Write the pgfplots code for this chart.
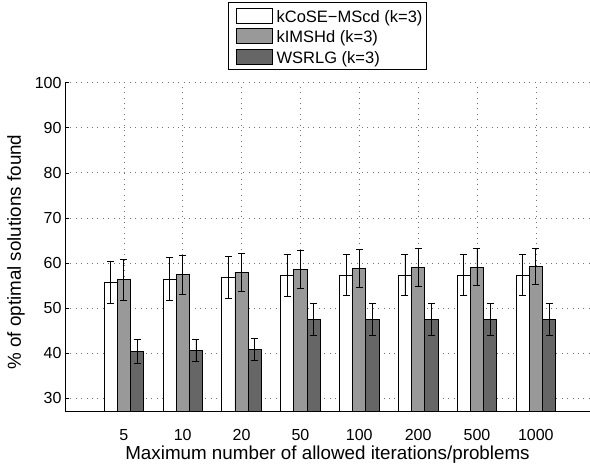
\documentclass[border=0pt]{standalone}
\usepackage{fontspec}
\setmainfont{Liberation Sans}
\usepackage{pgfplots}
\usepackage{pgfplotstable}
\pgfplotsset{compat=1.18}

\definecolor{barB}{HTML}{999999}
\definecolor{barC}{HTML}{666666}

% x = group index (5,10,20,50,100,200,500,1000)
\pgfplotstableread{
x y err
1 55.7 4.7
2 56.4 4.8
3 56.85 4.7
4 57.2 4.7
5 57.35 4.5
6 57.35 4.5
7 57.35 4.5
8 57.35 4.5
}\kcose
\pgfplotstableread{
x y err
1 56.25 4.5
2 57.4 4.3
3 57.95 4.2
4 58.5 4.2
5 58.85 4.2
6 59.0 4.2
7 59.1 4.1
8 59.15 4.0
}\kimshd
\pgfplotstableread{
x y err
1 40.4 2.6
2 40.6 2.5
3 40.8 2.45
4 47.5 3.5
5 47.5 3.5
6 47.5 3.5
7 47.5 3.5
8 47.5 3.5
}\wsrlg

\pgfplotsset{
    mybar/.style={
        draw=black, line width=0.8pt, fill=#1,
        legend image code/.code={%
            \path (-3.3pt,0pt);
            \draw[##1] (0pt,-7.5pt) rectangle (36pt,7.5pt);},
        error bars/.cd, y dir=both, y explicit,
        error bar style={black, line width=0.8pt},
        error mark options={black, mark size=3.5pt, line width=0.8pt, rotate=90}
    }
}

\begin{document}
\begin{tikzpicture}
\begin{axis}[
    scale only axis,
    width=525pt, height=329pt,
    xmin=0, xmax=8.92,
    ymin=27, ymax=100,
    enlargelimits=false,
    ybar=0pt, bar width=13.2pt,
    axis x line*=bottom,
    axis y line*=left,
    axis line style={line width=0.8pt},
    tick align=inside,
    major tick length=4pt,
    tick style={black, line width=0.6pt},
    xtick={1,...,8},
    xticklabels={5,10,20,50,100,200,500,1000},
    ytick={30,40,...,100},
    /pgf/number format/assume math mode=true,
    ticklabel style={font=\fontsize{16}{19}\selectfont},
    xticklabel style={anchor=base, yshift=-29.3pt},
    xmajorgrids, ymajorgrids,
    major grid style={black!55, line width=0.7pt, dash pattern=on 0.8pt off 4.6pt},
    label style={font=\fontsize{18.8}{22}\selectfont},
    xlabel={Maximum number of allowed iterations/problems},
    ylabel={\% of optimal solutions found},
    xlabel style={at={(axis description cs:0.5,-0.1468)}, anchor=base, inner sep=0pt},
    ylabel style={at={(axis description cs:-0.0762,0.485)}, anchor=south, inner sep=0pt},
    legend style={
        at={(0.5,1)}, anchor=south, yshift=12.7pt,
        draw=black, line width=0.9pt,
        font=\fontsize{16.5}{19}\selectfont,
        inner xsep=4pt, inner ysep=5pt,
        row sep=4.7pt, column sep=4pt,
        nodes={inner sep=0pt, text height=14.3pt, text depth=0.7pt}
    },
    legend cell align=left,
]
\addplot[mybar=white] table[x=x, y=y, y error=err] {\kcose};
\addplot[mybar=barB] table[x=x, y=y, y error=err] {\kimshd};
\addplot[mybar=barC] table[x=x, y=y, y error=err] {\wsrlg};
\legend{kCoSE−MScd (k=3), kIMSHd (k=3), WSRLG (k=3)}
\coordinate (O) at (rel axis cs:0,0);
\end{axis}
\pgfresetboundingbox
\path[use as bounding box] (O) ++(-65pt,-56.3pt) rectangle ++(590pt,468pt);
\end{tikzpicture}
\end{document}
